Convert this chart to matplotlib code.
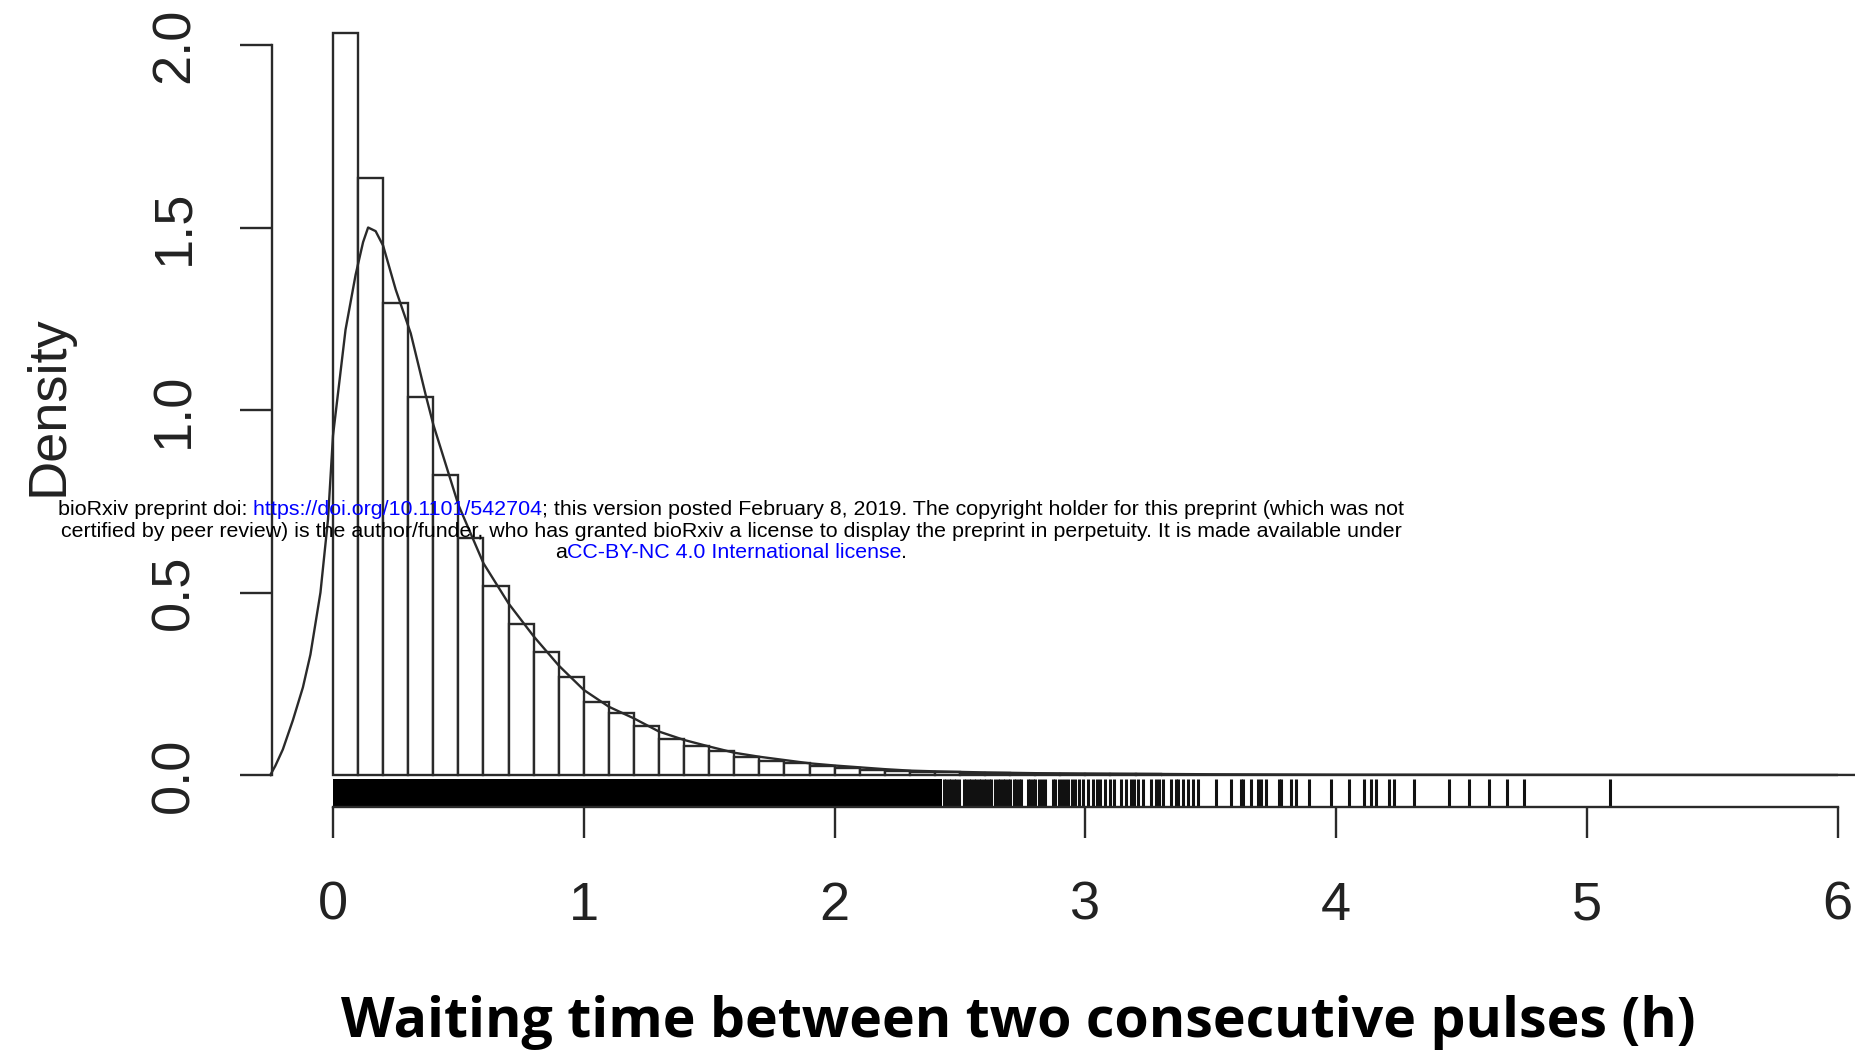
import matplotlib
matplotlib.use("Agg")
import matplotlib.pyplot as plt
import numpy as np
from matplotlib.offsetbox import TextArea, HPacker, VPacker, AnnotationBbox

# histogram of waiting times, bins of 0.1 h starting at 0
bin_width = 0.1
hist_density = [
    2.033, 1.636, 1.293, 1.035, 0.822, 0.648, 0.518, 0.414, 0.336, 0.268,
    0.201, 0.169, 0.134, 0.100, 0.080, 0.067, 0.050, 0.038, 0.032, 0.026,
    0.018, 0.014, 0.011, 0.009, 0.007, 0.006, 0.005, 0.004, 0.003, 0.003,
    0.002, 0.002, 0.002, 0.001, 0.001, 0.001, 0.001, 0.001, 0.001, 0.001,
    0.001, 0.001, 0.001, 0.001, 0.001, 0.001, 0.001, 0.001, 0.0, 0.0,
    0.0, 0.0, 0.0, 0.0, 0.0, 0.0, 0.0, 0.0, 0.0, 0.0,
]

# kernel density estimate
kde_x = [-0.25, -0.23, -0.20, -0.16, -0.12, -0.09, -0.05, -0.02, 0.0, 0.05,
         0.09, 0.12, 0.14, 0.17, 0.20, 0.25, 0.27, 0.31, 0.37, 0.40,
         0.50, 0.60, 0.70, 0.80, 0.90, 1.0, 1.1, 1.2, 1.3, 1.4,
         1.5, 1.6, 1.7, 1.8, 1.9, 2.0, 2.1, 2.2, 2.3, 2.4,
         2.6, 2.8, 3.0, 3.5, 4.0, 5.0, 6.0, 6.3]
kde_y = [0.0, 0.025, 0.07, 0.15, 0.24, 0.33, 0.50, 0.70, 0.93, 1.22,
         1.37, 1.46, 1.50, 1.49, 1.45, 1.33, 1.29, 1.21, 1.04, 0.96,
         0.74, 0.58, 0.47, 0.38, 0.30, 0.233, 0.187, 0.155, 0.119, 0.096,
         0.078, 0.061, 0.050, 0.041, 0.032, 0.026, 0.021, 0.016, 0.012, 0.010,
         0.007, 0.005, 0.004, 0.002, 0.001, 0.0005, 0.0002, 0.0]

# rug: saturated range, then the individual observations in the tail
rug_solid = (0.0, 2.43)
rug_tail = [2.435, 2.445, 2.455, 2.465, 2.475, 2.485, 2.495, 2.515, 2.525, 2.535,
            2.545, 2.555, 2.565, 2.575, 2.585, 2.595, 2.605, 2.615, 2.625, 2.64,
            2.65, 2.66, 2.67, 2.68, 2.69, 2.70, 2.715, 2.725, 2.735, 2.745,
            2.77, 2.78, 2.79, 2.80, 2.815, 2.825, 2.84, 2.87, 2.88, 2.895,
            2.905, 2.92, 2.93, 2.945, 2.96, 2.975, 2.99,
            3.01, 3.03, 3.045, 3.06, 3.08, 3.10, 3.115, 3.14, 3.16, 3.18,
            3.195, 3.21, 3.23, 3.26, 3.28, 3.295, 3.31, 3.34, 3.36, 3.37,
            3.39, 3.41, 3.43, 3.45,
            3.52, 3.58, 3.62, 3.63, 3.66, 3.69, 3.70, 3.72, 3.77, 3.78,
            3.82, 3.84, 3.89, 3.98, 4.05, 4.11, 4.14, 4.16, 4.21, 4.23,
            4.31, 4.45, 4.53, 4.61, 4.68, 4.75, 5.09]

x_ticks = [0, 1, 2, 3, 4, 5, 6]
y_ticks = [0.0, 0.5, 1.0, 1.5, 2.0]
y_tick_labels = ["0.0", "0.5", "1.0", "1.5", "2.0"]

W, H = 1856, 1060
fig = plt.figure(figsize=(W / 100, H / 100), dpi=100)
fig.patch.set_facecolor("white")

# one axes over the whole canvas; pixel -> data mapping chosen so the
# plot sits where it should
px_per_x = 250.8
px_per_y = 365.0
x0_px, y0_px = 333.0, 775.0
ax = fig.add_axes([0, 0, 1, 1])
ax.set_xlim(-x0_px / px_per_x, (W - x0_px) / px_per_x)
ax.set_ylim((y0_px - H) / px_per_y, y0_px / px_per_y)
ax.patch.set_alpha(0)

ink = "#2a2a2a"
lw = 1.7

lefts = np.arange(len(hist_density)) * bin_width
ax.bar(lefts, hist_density, width=bin_width, align="edge",
       facecolor="white", edgecolor=ink, linewidth=lw, zorder=2)

ax.plot(kde_x, kde_y, color=ink, linewidth=lw, zorder=3)

axis_y = (y0_px - 807) / px_per_y
rug_top = -0.012
ax.fill_between(rug_solid, axis_y, rug_top, color="black", linewidth=0, zorder=2)
ax.vlines(rug_tail, axis_y, rug_top, color="#111111", linewidth=2.2, zorder=2)

for side in ("top", "right"):
    ax.spines[side].set_visible(False)
ax.spines["left"].set_position(("data", -0.243))
ax.spines["left"].set_bounds(0, 2)
ax.spines["bottom"].set_position(("data", axis_y))
ax.spines["bottom"].set_bounds(0, 6)
for side in ("left", "bottom"):
    ax.spines[side].set_linewidth(lw)
    ax.spines[side].set_color(ink)

tick_font = dict(family=["Liberation Sans", "DejaVu Sans"], size=39)
ax.set_yticks(y_ticks)
ax.set_yticklabels(y_tick_labels, rotation=90, va="center", **tick_font)
ax.set_xticks(x_ticks)
ax.set_xticklabels([str(t) for t in x_ticks], **tick_font)
ax.tick_params(axis="y", length=23, width=lw, color=ink, pad=29, labelcolor="#222222")
ax.tick_params(axis="x", length=22, width=lw, color=ink, pad=31, labelcolor="#222222")

fig.text(49 / W, 1 - 406 / H, "Density", rotation=90, ha="center", va="center",
         color="#222222", **tick_font)
fig.text(1018 / W, 1 - 1023 / H, "Waiting time between two consecutive pulses (h)",
         ha="center", va="center", fontsize=40, fontweight="bold",
         family=["Open Sans", "DejaVu Sans"], color="black")

# preprint notice laid over the figure
note_props = dict(family=["Liberation Sans", "DejaVu Sans"], size=15.4)
blue = "#0000ff"


def note_line(parts):
    boxes = [TextArea(s, textprops=dict(color=c, **note_props)) for s, c in parts]
    return HPacker(children=boxes, align="baseline", pad=0, sep=0)


notice = VPacker(children=[
    note_line([("bioRxiv preprint doi:", "black"),
               (" https://doi.org/10.1101/542704", blue),
               ("; this version posted February 8, 2019. The copyright holder for this preprint (which was not", "black")]),
    note_line([("certified by peer review) is the author/funder, who has granted bioRxiv a license to display the preprint in perpetuity. It is made available under", "black")]),
    note_line([("a", "black"), ("CC-BY-NC 4.0 International license", blue), (".", "black")]),
], align="center", pad=0, sep=2)
ax.add_artist(AnnotationBbox(notice, (731 / W, 1 - 531 / H), xycoords="figure fraction",
                             frameon=False, box_alignment=(0.5, 0.5), zorder=5))

fig.savefig("out.png", dpi=100)
